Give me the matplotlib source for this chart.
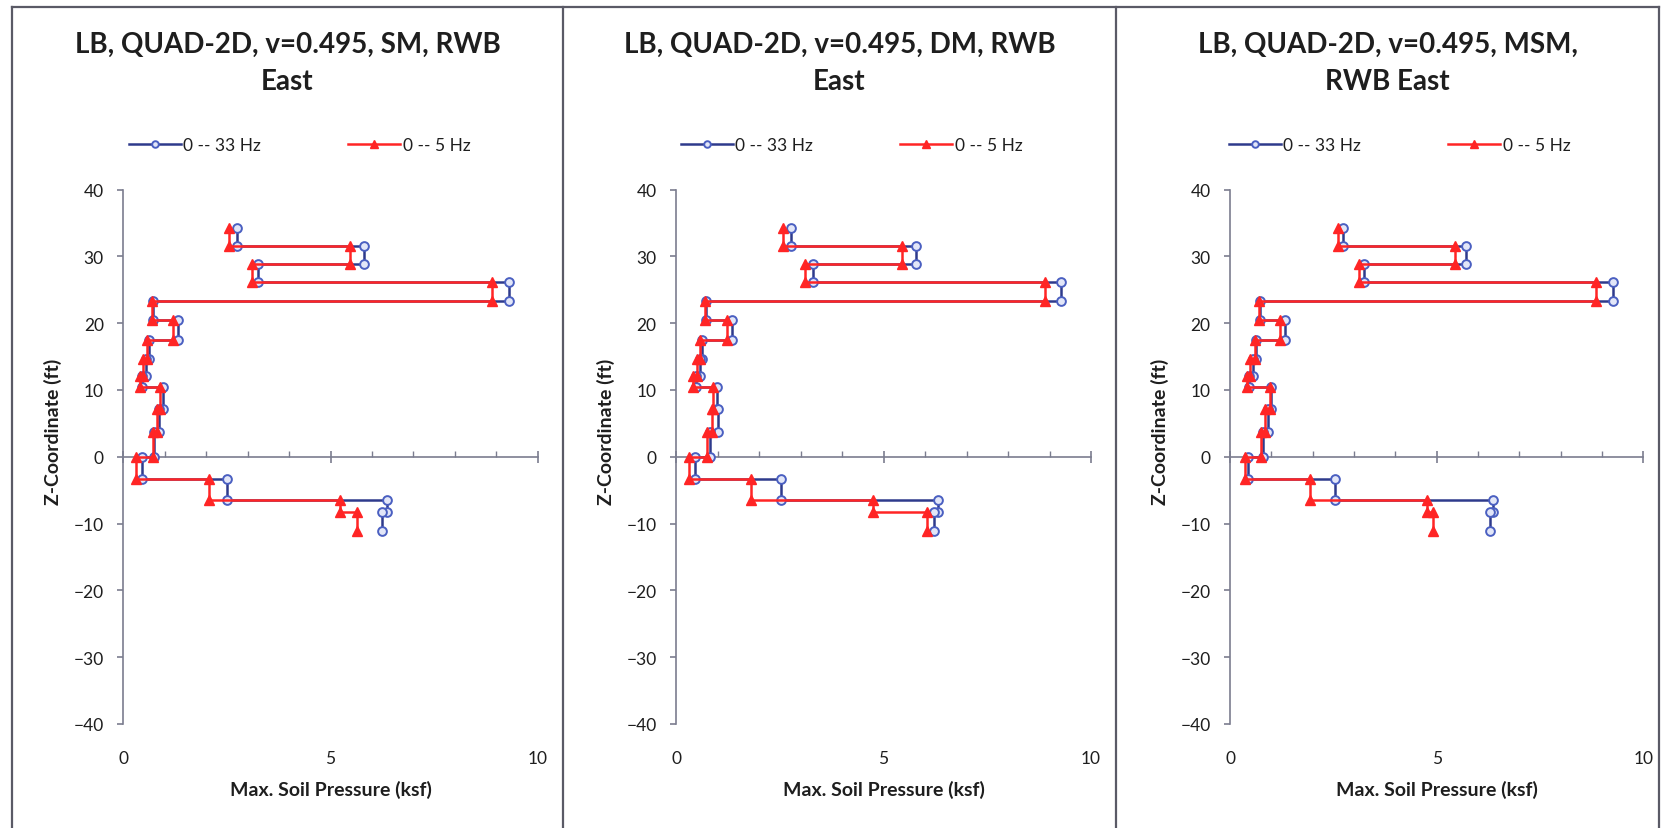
import matplotlib
matplotlib.use("Agg")
import matplotlib.pyplot as plt
from matplotlib.lines import Line2D
from matplotlib.ticker import FixedLocator, MultipleLocator, NullLocator

plt.rcParams['font.family'] = ['Lato', 'DejaVu Sans']

# ---------------- data ----------------
Z_LEVELS = [34.3, 31.5, 28.8, 26.1, 23.3, 20.5, 17.5, 14.7, 12.1, 10.4,
            7.1, 3.7, 0.0, -3.4, -6.4, -8.3, -11.1]

TITLES = ["LB, QUAD-2D, v=0.495, SM, RWB\nEast",
          "LB, QUAD-2D, v=0.495, DM, RWB\nEast",
          "LB, QUAD-2D, v=0.495, MSM,\nRWB East"]
SERIES_NAMES = ["0 -- 33 Hz", "0 -- 5 Hz"]

P33_SM = [2.74, 5.80, 3.26, 9.30, 0.72, 1.33, 0.63, 0.55, 0.46, 0.97, 0.85, 0.75, 0.44, 2.50, 6.36, 6.24]
P5_SM = [2.56, 5.46, 3.10, 8.90, 0.70, 1.21, 0.58, 0.47, 0.40, 0.89, 0.81, 0.72, 0.30, 2.07, 5.23, 5.65]

P33_DM = [2.76, 5.78, 3.29, 9.28, 0.72, 1.34, 0.63, 0.58, 0.48, 0.98, 1.00, 0.82, 0.46, 2.53, 6.32, 6.22]
P5_DM = [2.59, 5.44, 3.11, 8.88, 0.71, 1.22, 0.59, 0.50, 0.42, 0.90, 0.86, 0.74, 0.32, 1.80, 4.74, 6.04]

P33_MSM = [2.74, 5.71, 3.25, 9.26, 0.72, 1.32, 0.64, 0.56, 0.46, 0.98, 0.92, 0.80, 0.44, 2.54, 6.36, 6.28]
P5_MSM = [2.62, 5.45, 3.11, 8.86, 0.70, 1.20, 0.60, 0.48, 0.42, 0.96, 0.84, 0.74, 0.36, 1.94, 4.76, 4.92]

X_TICKS = [0, 5, 10]
Y_TICKS = [-40, -30, -20, -10, 0, 10, 20, 30, 40]
X_LABEL = "Max. Soil Pressure (ksf)"
Y_LABEL = "Z-Coordinate (ft)"

PANELS = [(P33_SM, P5_SM), (P33_DM, P5_DM), (P33_MSM, P5_MSM)]

# ---------------- style / layout ----------------
W, H = 1662, 829
AX_LEFT = [123.3, 676.0, 1230.0]
AX_WIDTH = [414.4, 415.0, 413.3]
AX_TOP, AX_BOT = 190.5, 725.0
PANEL_EDGES = [12, 563, 1116, 1659]
BLUE_LINE = '#2e3a8c'
BLUE_MK = '#4a5fc1'
RED = '#ff2525'
AXC = '#7b7d8f'
TXT = '#1e1e1e'


def step_path(p, z):
    xs, ys = [], []
    for i, v in enumerate(p):
        xs += [v, v]
        ys += [z[i], z[i + 1]]
    return xs, ys


fig = plt.figure(figsize=(W / 100, H / 100), dpi=100)
fig.patch.set_facecolor('white')

for i, (p33, p5) in enumerate(PANELS):
    l = AX_LEFT[i]
    ax = fig.add_axes([l / W, 1 - AX_BOT / H, AX_WIDTH[i] / W, (AX_BOT - AX_TOP) / H])
    ax.set_facecolor('none')
    xb, yb = step_path(p33, Z_LEVELS)
    xr, yr = step_path(p5, Z_LEVELS)
    ax.plot(xb, yb, color=BLUE_LINE, lw=1.8, marker='o', ms=6.3,
            mfc='#e2e6f8', mec=BLUE_MK, mew=1.4, label=SERIES_NAMES[0], zorder=3)
    ax.plot(xr, yr, color=RED, lw=1.8, marker='^', ms=7,
            mfc=RED, mec=RED, label=SERIES_NAMES[1], zorder=4)
    ax.set_xlim(0, 10)
    ax.set_ylim(-40, 40)
    for s in ['top', 'right']:
        ax.spines[s].set_visible(False)
    ax.spines['bottom'].set_position(('data', 0))
    ax.spines['bottom'].set_color(AXC)
    ax.spines['left'].set_color(AXC)
    ax.spines['bottom'].set_linewidth(1.2)
    ax.spines['left'].set_linewidth(1.2)
    ax.xaxis.set_major_locator(FixedLocator(X_TICKS))
    ax.xaxis.set_minor_locator(MultipleLocator(1))
    ax.tick_params(axis='x', which='major', direction='inout', length=9,
                   width=1.2, color=AXC, labelbottom=False)
    ax.tick_params(axis='x', which='minor', direction='in', length=4,
                   width=1.0, color=AXC)
    ax.set_yticks(Y_TICKS)
    ax.tick_params(axis='y', which='major', direction='out', length=4,
                   width=1.2, color=AXC, pad=10, labelsize=12.5, labelcolor=TXT)

    sec = ax.secondary_xaxis(0)
    sec.spines['bottom'].set_visible(False)
    sec.set_xticks(X_TICKS)
    sec.xaxis.set_minor_locator(NullLocator())
    sec.tick_params(axis='x', length=0, pad=19, labelsize=12.5, labelcolor=TXT)

    # panel texts
    pc = (PANEL_EDGES[i] + PANEL_EDGES[i + 1]) / 2
    for k, line in enumerate(TITLES[i].split('\n')):
        fig.text(pc / W, 1 - [44.5, 82.0][k] / H, line, ha='center', va='center',
                 fontsize=20, fontweight='bold', color=TXT)
    axc = l + AX_WIDTH[i] / 2
    fig.text(axc / W, 1 - 790 / H, X_LABEL, ha='center', va='center',
             fontsize=14, fontweight='bold', color=TXT)
    fig.text((l - 70) / W, 1 - 432 / H, Y_LABEL, ha='center', va='center',
             rotation=90, fontsize=14, fontweight='bold', color=TXT)
    ax.legend(loc='center', bbox_to_anchor=((pc + 12) / W, 1 - 146 / H),
              bbox_transform=fig.transFigure, ncol=2, frameon=False,
              fontsize=12.5, handlelength=3.0, handletextpad=0.15,
              columnspacing=5.0, numpoints=1, markerscale=0.75,
              labelcolor=TXT)

# panel borders
for x in PANEL_EDGES:
    fig.add_artist(Line2D([x / W, x / W], [0, 1 - 8 / H], transform=fig.transFigure,
                          color='#5a5a66', lw=1.6))
fig.add_artist(Line2D([PANEL_EDGES[0] / W, PANEL_EDGES[-1] / W], [1 - 8 / H, 1 - 8 / H],
                      transform=fig.transFigure, color='#5a5a66', lw=1.6))

fig.savefig('out.png', dpi=100, facecolor='white')
